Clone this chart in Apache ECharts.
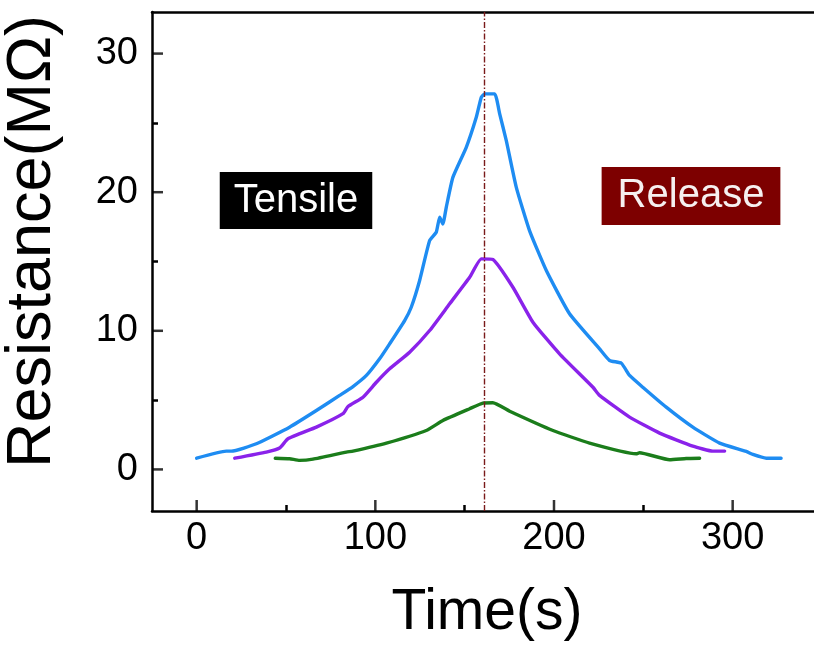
<!DOCTYPE html>
<html>
<head>
<meta charset="utf-8">
<script src="https://cdn.jsdelivr.net/npm/echarts@6/dist/echarts.min.js"></script>
<style>
  html, body { margin: 0; padding: 0; background: #fff; }
  #chart { width: 814px; height: 645px; }
</style>
</head>
<body>
<div id="chart"></div>
<script>
// Resistance response during one stretch/release cycle (three samples)
const timeBlue = [0, 16.6, 19.4, 33.4, 52.0, 67.0, 80.0, 87.5, 95.0, 102.4, 108.0, 116.4, 120.1, 124.8, 130.4, 134.1, 136.0, 137.8, 139.7, 143.4, 150.9, 156.5, 159.3, 161.2, 166.8, 169.6, 173.3, 178.9, 186.3, 195.7, 208.7, 225.5, 231.1, 237.7, 242.3, 249.7, 262.8, 277.7, 292.7, 307.6, 311.3, 318.8, 327.1];
const resBlue  = [0.81, 1.32, 1.32, 1.85, 3.05, 4.25, 5.34, 5.98, 6.78, 7.98, 9.06, 10.74, 11.70, 13.63, 16.51, 17.11, 18.19, 17.71, 18.91, 21.07, 23.24, 25.40, 26.84, 27.09, 27.09, 25.65, 23.72, 20.35, 17.23, 14.35, 11.23, 8.70, 7.86, 7.66, 6.78, 5.93, 4.49, 3.05, 1.90, 1.30, 1.08, 0.81, 0.81];

const timePurple = [21.3, 39.0, 46.4, 51.1, 67.0, 81.9, 84.7, 93.1, 100.6, 108.0, 119.2, 130.4, 141.6, 152.8, 159.3, 165.8, 177.0, 188.2, 203.1, 221.8, 225.5, 242.3, 259.1, 277.7, 288.9, 295.5];
const resPurple  = [0.81, 1.25, 1.54, 2.21, 3.05, 4.02, 4.54, 5.21, 6.29, 7.26, 8.46, 10.02, 11.95, 13.86, 15.19, 15.14, 13.14, 10.62, 8.34, 5.93, 5.34, 3.77, 2.62, 1.68, 1.32, 1.32];

const timeGreen = [44.0, 52.0, 57.6, 65.1, 83.8, 87.5, 106.2, 128.5, 137.8, 152.8, 160.2, 165.8, 175.2, 199.4, 219.9, 246.0, 247.9, 264.7, 274.0, 281.5];
const resGreen  = [0.81, 0.77, 0.65, 0.74, 1.25, 1.32, 1.90, 2.81, 3.53, 4.38, 4.78, 4.81, 4.20, 2.81, 1.90, 1.13, 1.20, 0.70, 0.79, 0.81];

// Moment the stretching stops and release begins
const switchTime = 161;

const xMajorTicks = [0, 100, 200, 300];
const xMinorTicks = [50, 150, 250];
const yMajorTicks = [0, 10, 20, 30];
const yMinorTicks = [5, 15, 25];

const X_MIN = -25, X_MAX = 350;
const Y_MIN = -3, Y_MAX = 33;

const pair = (xs, ys) => xs.map((x, i) => [x, ys[i]]);

const FONT = '"Liberation Sans", Arial, sans-serif';

const chart = echarts.init(document.getElementById('chart'), null, { renderer: 'canvas' });

const lineSeries = (data, color) => ({
  type: 'line',
  data,
  showSymbol: false,
  smooth: 0.15,
  lineStyle: { color, width: 3.4, cap: 'round', join: 'round' },
  z: 3
});

// major ticks drawn as short bars standing on the axes
const tickMarks = (data, size, offset) => ({
  type: 'scatter',
  data,
  symbol: 'rect',
  symbolSize: size,
  symbolOffset: offset,
  itemStyle: { color: '#000' },
  silent: true,
  clip: false,
  z: 5
});

const AXIS_LINE = { show: true, onZero: false, lineStyle: { color: '#000', width: 2.5 } };
const NO_LINE = { show: false, onZero: false };

const xBase = { type: 'value', min: X_MIN, max: X_MAX, splitLine: { show: false } };
const yBase = { type: 'value', min: Y_MIN, max: Y_MAX, splitLine: { show: false } };

// an axis that only draws inward ticks at the given values
const tickAxis = (base, position, values, length) => Object.assign({}, base, {
  position,
  axisLine: NO_LINE,
  axisTick: { show: true, inside: true, length, customValues: values.slice(), lineStyle: { color: '#000', width: 2.5 } },
  axisLabel: { show: false }
});

chart.setOption({
  animation: false,
  backgroundColor: '#fff',
  grid: {
    show: false,
    left: 152, top: 12, right: -8, bottom: 134,
    outerBoundsMode: 'none', containLabel: false
  },
  xAxis: [
    Object.assign({}, xBase, {
      position: 'bottom',
      axisLine: AXIS_LINE,
      axisTick: { show: false },
      axisLabel: { customValues: xMajorTicks.slice(), color: '#000', fontSize: 38, fontFamily: FONT, margin: 9 },
      name: 'Time(s)',
      nameLocation: 'middle',
      nameGap: 74,
      nameTextStyle: { color: '#000', fontSize: 57, fontFamily: FONT }
    }),
    tickAxis(xBase, 'bottom', xMinorTicks, 6),
    // frame line along the top edge
    Object.assign({}, xBase, {
      position: 'top',
      axisLine: AXIS_LINE,
      axisTick: { show: false },
      axisLabel: { show: false }
    })
  ],
  yAxis: [
    Object.assign({}, yBase, {
      position: 'left',
      axisLine: AXIS_LINE,
      axisTick: { show: false },
      axisLabel: { customValues: yMajorTicks.slice(), color: '#000', fontSize: 38, fontFamily: FONT, margin: 14 },
      name: 'Resistance(MΩ)',
      nameLocation: 'middle',
      nameGap: 88,
      nameRotate: 90,
      nameTextStyle: { color: '#000', fontSize: 63, fontFamily: FONT, padding: [0, 0, 0, 40] }
    }),
    tickAxis(yBase, 'left', yMinorTicks, 6)
  ],
  series: [
    Object.assign(lineSeries(pair(timeBlue, resBlue), '#1e8cf2'), {
      markLine: {
        silent: true,
        symbol: 'none',
        label: { show: false },
        lineStyle: { color: '#7a1a1a', width: 1.4, type: [6, 2, 1.5, 2] },
        data: [{ xAxis: switchTime }]
      }
    }),
    lineSeries(pair(timePurple, resPurple), '#8a22ea'),
    lineSeries(pair(timeGreen, resGreen), '#1b7d1b'),
    tickMarks(xMajorTicks.map(v => [v, Y_MIN]), [2.5, 11], [0, -5.5]),
    tickMarks(yMajorTicks.map(v => [X_MIN, v]), [11, 2.5], [5.5, 0])
  ],
  graphic: [
    {
      type: 'text',
      x: 296, y: 200.5,
      style: {
        text: 'Tensile', fill: '#fff', font: '40px ' + FONT,
        align: 'center', verticalAlign: 'middle',
        backgroundColor: '#000', padding: [8, 14, 9, 14]
      },
      z: 10
    },
    {
      type: 'text',
      x: 691, y: 196,
      style: {
        text: 'Release', fill: '#f6f0f0', font: '40px ' + FONT,
        align: 'center', verticalAlign: 'middle',
        backgroundColor: '#7d0000', padding: [9, 16, 9, 16]
      },
      z: 10
    }
  ]
});
</script>
</body>
</html>
